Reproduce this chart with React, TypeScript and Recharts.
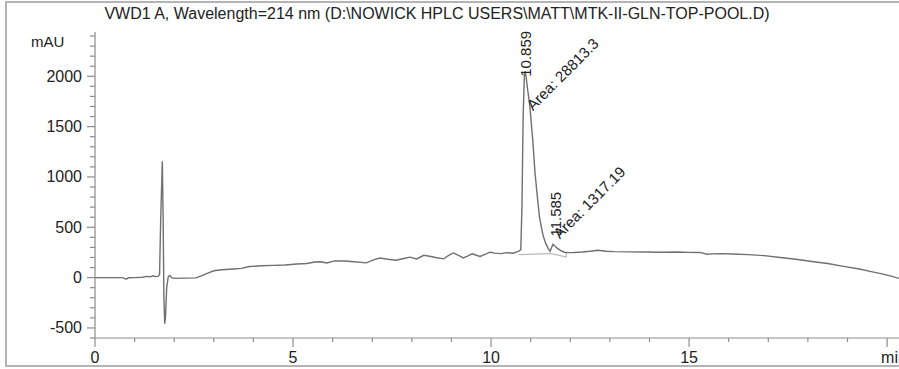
import { LineChart, Line, XAxis, YAxis, ReferenceDot } from "recharts";

const title = "VWD1 A, Wavelength=214 nm (D:\\NOWICK HPLC USERS\\MATT\\MTK-II-GLN-TOP-POOL.D)";
const yUnit = "mAU";

// retention time (min) / absorbance (mAU)
const times = [
  0, 0.7, 0.76, 0.8, 0.84, 1.0, 1.2, 1.3, 1.38, 1.47, 1.53, 1.6, 1.63, 1.66, 1.7, 1.72, 1.74, 1.76, 1.78,
  1.81, 1.85, 1.89, 1.93, 2.0, 2.3, 2.55, 2.7, 2.85, 3.0, 3.2, 3.5, 3.7, 3.9, 4.2, 4.5, 4.8, 5.1, 5.35,
  5.55, 5.7, 5.85, 6.05, 6.3, 6.55, 6.85, 7.05, 7.2, 7.4, 7.6, 7.8, 7.95, 8.12, 8.3, 8.45, 8.6, 8.8, 8.95,
  9.05, 9.18, 9.3, 9.42, 9.52, 9.63, 9.72, 9.85, 9.97, 10.1, 10.25, 10.4, 10.55, 10.68, 10.75, 10.78, 10.81,
  10.84, 10.859, 10.88, 10.92, 10.98, 11.05, 11.11, 11.17, 11.22, 11.28, 11.32, 11.38, 11.44, 11.49, 11.53,
  11.56, 11.6, 11.66, 11.75, 11.85, 11.95, 12.1, 12.3, 12.5, 12.7, 12.9, 13.1, 13.5, 13.9, 14.3, 14.7, 15.0,
  15.28, 15.45, 15.6, 15.8, 16.1, 16.5, 16.9, 17.3, 17.7, 18.1, 18.5, 18.9, 19.3, 19.6, 19.9, 20.1, 20.3,
];
const signal = [
  0, 0, -12, -14, -2, 0, 3, 12, 8, 18, 10, 14, 30, 600, 1155, 600, -200, -457, -400,
  -100, 10, 22, 0, -8, -5, -3, 20, 45, 68, 78, 86, 92, 110, 118, 122, 125, 135, 140,
  155, 158, 146, 166, 165, 158, 146, 178, 194, 182, 172, 190, 203, 186, 222, 212, 200, 186, 225,
  245, 220, 196, 215, 236, 222, 210, 230, 252, 243, 238, 248, 242, 258, 275, 700, 1600,
  2000, 2050, 2010, 1880, 1700, 1380, 1040, 800, 610, 480, 410, 340, 290, 262, 300,
  330, 318, 295, 270, 252, 248, 250, 255, 262, 272, 262, 258, 256, 255, 252, 254, 251,
  250, 232, 236, 238, 234, 228, 218, 200, 183, 160, 140, 112, 85, 60, 35, 15, -8,
];

// integration baselines
const base1Times = [10.7, 11.49];
const base1Values = [228, 238];
const base2Times = [11.49, 11.9, 11.9];
const base2Values = [240, 205, 248];

const peakTimes = [10.859, 11.585];
const peakHeights = [2050, 328];
const peakLabels = ["10.859", "11.585"];
const areaLabels = ["Area: 28813.3", "Area: 1317.19"];

const xTicks = [0, 1, 2, 3, 4, 5, 6, 7, 8, 9, 10, 11, 12, 13, 14, 15, 16, 17, 18, 19, 20];
const xTickLabels: Record<number, string> = { 0: "0", 5: "5", 10: "10", 15: "15", 20: "min" };
const yTicks = [
  -600, -500, -400, -300, -200, -100, 0, 100, 200, 300, 400, 500, 600, 700, 800, 900, 1000, 1100, 1200,
  1300, 1400, 1500, 1600, 1700, 1800, 1900, 2000, 2100, 2200, 2300, 2400,
];
const yTickLabels = [-500, 0, 500, 1000, 1500, 2000];

const trace = times.map((t, i) => ({ t, v: signal[i] }));
const base1 = base1Times.map((t, i) => ({ t, v: base1Values[i] }));
const base2 = base2Times.map((t, i) => ({ t, v: base2Values[i] }));

const FONT = '"Liberation Sans", Arial, sans-serif';
const AXIS = "#8c8c8c";
const TEXT = "#222";

// label offsets from the apex, in px
const rtOffset = [
  [5.5, 5.5],
  [7.5, -8],
];
const areaOffset = [
  [8, 40],
  [6, -5],
];

function XTick(props: any) {
  const { x, y, payload } = props;
  const label = xTickLabels[payload.value];
  const major = label !== undefined;
  const isUnit = payload.value === 20;
  return (
    <g>
      <line x1={x} x2={x} y1={y} y2={y + (major ? 9 : 4)} stroke={AXIS} strokeWidth={1.2} />
      {major && (
        <text
          x={isUnit ? x - 6 : x}
          y={y + 25}
          textAnchor={isUnit ? "start" : "middle"}
          fontSize={16}
          fontFamily={FONT}
          fill={TEXT}
        >
          {label}
        </text>
      )}
    </g>
  );
}

function YTick(props: any) {
  const { x, y, payload } = props;
  const major = yTickLabels.includes(payload.value);
  return (
    <g>
      <line x1={x} x2={x - (major ? 8 : 5)} y1={y} y2={y} stroke={AXIS} strokeWidth={1.2} />
      {major && (
        <text x={x - 13} y={y + 5.5} textAnchor="end" fontSize={16} fontFamily={FONT} fill={TEXT}>
          {payload.value}
        </text>
      )}
    </g>
  );
}

function peakShape(i: number) {
  return (p: any) => {
    const { cx, cy } = p;
    const rx = cx + rtOffset[i][0];
    const ry = cy + rtOffset[i][1];
    const ax = cx + areaOffset[i][0];
    const ay = cy + areaOffset[i][1];
    return (
      <g>
        <text x={rx} y={ry} transform={`rotate(-90 ${rx} ${ry})`} fontSize={15} fontFamily={FONT} fill={TEXT}>
          {peakLabels[i]}
        </text>
        <text x={ax} y={ay} transform={`rotate(-45 ${ax} ${ay})`} fontSize={15} fontFamily={FONT} fill={TEXT}>
          {areaLabels[i]}
        </text>
      </g>
    );
  };
}

export default function App() {
  return (
    <div style={{ position: "absolute", left: 0, top: 0, width: 899, height: 369, background: "#fff", overflow: "hidden" }}>
      <div
        style={{
          position: "absolute",
          left: 5,
          top: 1,
          width: 1000,
          height: 366,
          border: "2px solid #b4b4b4",
          boxSizing: "border-box",
        }}
      />
      <svg width={899} height={60} style={{ position: "absolute", left: 0, top: 0 }}>
        <text x={437} y={19} textAnchor="middle" fontSize={16} fontFamily={FONT} fill={TEXT}>
          {title}
        </text>
        <text x={31} y={47} fontSize={15} fontFamily={FONT} fill={TEXT}>
          {yUnit}
        </text>
      </svg>
      <div style={{ position: "absolute", left: 0, top: 0 }}>
        <LineChart width={899} height={369} margin={{ top: 32, right: 0, bottom: 0, left: 0 }}>
          <XAxis
            type="number"
            dataKey="t"
            domain={[0, 20.3]}
            ticks={xTicks}
            interval={0}
            height={31}
            tickSize={0}
            tickMargin={0}
            tickLine={false}
            axisLine={{ stroke: AXIS, strokeWidth: 1.2 }}
            tick={(p: any) => <XTick {...p} />}
            allowDataOverflow
          />
          <YAxis
            type="number"
            domain={[-600, 2440]}
            ticks={yTicks}
            interval={0}
            width={95}
            tickSize={0}
            tickMargin={0}
            tickLine={false}
            axisLine={{ stroke: AXIS, strokeWidth: 1.2 }}
            tick={(p: any) => <YTick {...p} />}
            allowDataOverflow
          />
          <Line data={base1} dataKey="v" stroke="#b8b8b8" strokeWidth={1.2} dot={false} isAnimationActive={false} />
          <Line data={base2} dataKey="v" stroke="#b8b8b8" strokeWidth={1.2} dot={false} isAnimationActive={false} />
          <Line data={trace} dataKey="v" stroke="#707070" strokeWidth={1.4} dot={false} isAnimationActive={false} />
          {peakTimes.map((t, i) => (
            <ReferenceDot key={i} x={t} y={peakHeights[i]} r={0} ifOverflow="visible" shape={peakShape(i)} />
          ))}
        </LineChart>
      </div>
    </div>
  );
}
